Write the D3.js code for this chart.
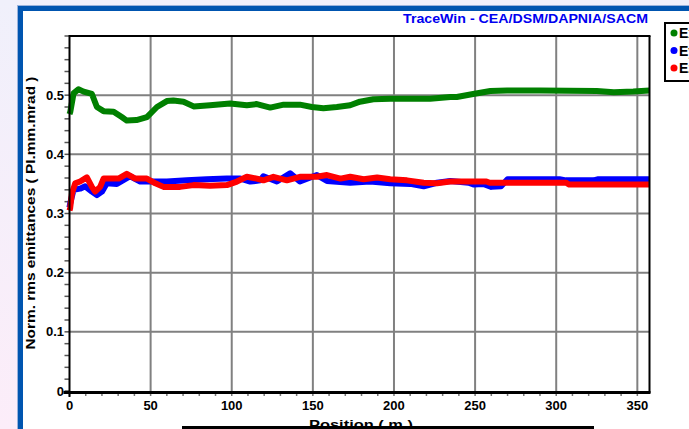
<!DOCTYPE html>
<html><head><meta charset="utf-8">
<script src="https://cdn.jsdelivr.net/npm/d3@7"></script>
<style>body{margin:0;overflow:hidden;background:#fff}svg{display:block}text{font-family:"Liberation Sans",Arial,sans-serif;font-weight:bold}</style>
</head><body><svg id="c" width="689" height="429"></svg>
<script>
const title = "TraceWin - CEA/DSM/DAPNIA/SACM";
const xLabel = "Position ( m )";
const yLabel = "Norm. rms emittances ( PI.mm.mrad )";
const seriesNames = ["Exx'", "Eyy'", "Ezz'"];
const seriesColors = ["#008000", "#0000ff", "#ff0000"];
const xTicks = [0, 50, 100, 150, 200, 250, 300, 350];
const yTicks = [0, 0.1, 0.2, 0.3, 0.4, 0.5];
const yTickLabels = ["0", "0.1", "0.2", "0.3", "0.4", "0.5"];

const green = [[0,0.468],[0.5,0.472],[2.5,0.503],[5.5,0.51],[8.7,0.506],[13.8,0.502],[16.9,0.48],[21,0.473],[27.2,0.472],[32.2,0.463],[35.3,0.457],[41.3,0.458],[47.7,0.463],[53.9,0.48],[60,0.49],[64,0.491],[70.3,0.489],[76.5,0.481],[86.6,0.483],[99,0.486],[109.3,0.483],[115.5,0.485],[123.7,0.479],[132,0.484],[142,0.484],[149.4,0.48],[156.5,0.478],[164.8,0.48],[173,0.483],[179,0.489],[187.3,0.493],[197.7,0.494],[210,0.494],[222.3,0.494],[234.7,0.497],[238.7,0.497],[248.8,0.502],[259.4,0.507],[269.7,0.508],[290,0.508],[325,0.507],[335.5,0.505],[347.5,0.506],[357.5,0.508]];
const blue = [[0,0.31],[0.4,0.317],[2.5,0.34],[6.5,0.342],[9.7,0.346],[13.8,0.337],[16.9,0.331],[20,0.337],[23,0.351],[29.2,0.35],[37.4,0.363],[43.6,0.354],[51.8,0.354],[60,0.354],[72.3,0.356],[84.6,0.358],[97,0.359],[105.3,0.359],[111.4,0.354],[117.6,0.356],[119.5,0.363],[127.8,0.354],[136,0.368],[142,0.354],[152.5,0.365],[158.7,0.355],[173,0.352],[185.3,0.354],[197.7,0.351],[210,0.35],[218.3,0.346],[226.5,0.352],[234.7,0.355],[246,0.352],[249,0.349],[255,0.35],[260,0.345],[266,0.346],[270,0.358],[302,0.358],[306,0.356],[323,0.356],[326,0.358],[357.5,0.358]];
const red = [[0,0.305],[0.4,0.309],[1.5,0.334],[3.5,0.351],[6.5,0.354],[10.7,0.361],[13.8,0.345],[15.8,0.337],[18.9,0.345],[21,0.359],[25,0.359],[30.2,0.359],[35.3,0.367],[40.5,0.359],[47.7,0.359],[52.9,0.351],[57.9,0.345],[68.2,0.345],[76.5,0.348],[86.6,0.347],[97,0.348],[103.2,0.354],[109.3,0.362],[115.5,0.359],[119.5,0.356],[125.7,0.362],[134,0.356],[142,0.362],[152.5,0.362],[158.7,0.365],[167,0.359],[173,0.362],[181.3,0.358],[189.6,0.361],[197.7,0.358],[208,0.356],[218.3,0.352],[226.5,0.351],[234.7,0.354],[257,0.354],[259,0.352],[306,0.352],[308,0.349],[357.5,0.349]];
const series = [green, blue, red];

const svg = d3.select("#c");
const W = 689, H = 429;
const L = 69.5, R = 649.5, T = 36, B = 391;
const x = d3.scaleLinear().domain([0, 357.5]).range([L, R]);
const y = d3.scaleLinear().domain([0, 0.6]).range([B, T]);

// background & frame
const defs = svg.append("defs");
const lg = defs.append("linearGradient").attr("id","bg").attr("x1",0).attr("y1",0).attr("x2",0).attr("y2",1);
lg.append("stop").attr("offset","0").attr("stop-color","#f0f0fb");
lg.append("stop").attr("offset","1").attr("stop-color","#fcedf9");
svg.append("rect").attr("width",W).attr("height",H).attr("fill","url(#bg)");
svg.append("rect").attr("x",17).attr("y",5).attr("width",W-17).attr("height",H-5).attr("fill","#9ab3dc");
svg.append("rect").attr("x",18).attr("y",6).attr("width",W-18).attr("height",H-6).attr("fill","#0055b0");
svg.append("rect").attr("x",23).attr("y",11).attr("width",W-23).attr("height",H-11).attr("fill","#fff");

svg.append("text").attr("x",648).attr("y",23).attr("text-anchor","end").attr("fill","#0000f0")
  .attr("font-size",13).attr("textLength",245).attr("lengthAdjust","spacingAndGlyphs").text(title);

// grid
const g = svg.append("g");
g.selectAll(".vg").data(xTicks.filter(d=>d>0)).join("line")
  .attr("x1",d=>x(d)).attr("x2",d=>x(d)).attr("y1",T).attr("y2",B)
  .attr("stroke","#808080").attr("stroke-width",2);
g.selectAll(".hg").data(yTicks.filter(d=>d>0)).join("line")
  .attr("x1",L).attr("x2",R).attr("y1",d=>y(d)).attr("y2",d=>y(d))
  .attr("stroke","#808080").attr("stroke-width",2);

// minor ticks
const yMinor = d3.range(0, 0.6001, 0.02);
g.selectAll(".ym").data(yMinor).join("line")
  .attr("x1",L-5).attr("x2",L).attr("y1",d=>y(d)).attr("y2",d=>y(d))
  .attr("stroke","#555").attr("stroke-width",1.5);
const xMinor = d3.range(0, 357, 10);
g.selectAll(".xm").data(xMinor).join("line")
  .attr("x1",d=>x(d)).attr("x2",d=>x(d)).attr("y1",B+2).attr("y2",B+5)
  .attr("stroke","#777").attr("stroke-width",1.5);

// lines
const line = d3.line().x(d=>x(d[0])).y(d=>y(d[1]));
const plot = svg.append("g");
series.forEach((s,i)=>{
  plot.append("path").attr("d",line(s)).attr("fill","none")
    .attr("stroke",seriesColors[i]).attr("stroke-width",6)
    .attr("stroke-linejoin","round").attr("stroke-linecap","butt");
});

// borders
svg.append("line").attr("x1",L).attr("x2",R+1).attr("y1",T).attr("y2",T).attr("stroke","#000").attr("stroke-width",2);
svg.append("line").attr("x1",R).attr("x2",R).attr("y1",T).attr("y2",B+2).attr("stroke","#000").attr("stroke-width",2);
svg.append("line").attr("x1",L).attr("x2",L).attr("y1",T-1).attr("y2",B+6).attr("stroke","#000").attr("stroke-width",2);
svg.append("line").attr("x1",L-6).attr("x2",R+1).attr("y1",B+1.5).attr("y2",B+1.5).attr("stroke","#000").attr("stroke-width",3);

// tick labels
svg.selectAll(".yl").data(yTicks).join("text")
  .attr("x",64).attr("y",d=>y(d)+4.5).attr("text-anchor","end").attr("font-size",13)
  .attr("fill","#000").text((d,i)=>yTickLabels[i]);
svg.selectAll(".xl").data(xTicks).join("text")
  .attr("x",d=>x(d)).attr("y",410).attr("text-anchor","middle").attr("font-size",13)
  .attr("fill","#000").text(d=>d);

// axis labels
svg.append("text").attr("transform","translate(35,213) rotate(-90)").attr("text-anchor","middle")
  .attr("font-size",13).attr("textLength",273).attr("lengthAdjust","spacingAndGlyphs").text(yLabel);
svg.append("text").attr("x",361).attr("y",429).attr("text-anchor","middle")
  .attr("font-size",13).attr("textLength",104).attr("lengthAdjust","spacingAndGlyphs").text(xLabel);
svg.append("rect").attr("x",182).attr("y",426).attr("width",412).attr("height",3).attr("fill","#000");

// legend
svg.append("rect").attr("x",665).attr("y",23).attr("width",40).attr("height",58)
  .attr("fill","#fff").attr("stroke","#000").attr("stroke-width",2);
const leg = svg.selectAll(".lg").data(seriesNames).join("g")
  .attr("transform",(d,i)=>`translate(674,${33+i*17.5})`);
leg.append("circle").attr("r",3.5).attr("fill",(d,i)=>seriesColors[i]);
leg.append("text").attr("x",5).attr("y",5).attr("font-size",14).text(d=>d);
</script></body></html>
